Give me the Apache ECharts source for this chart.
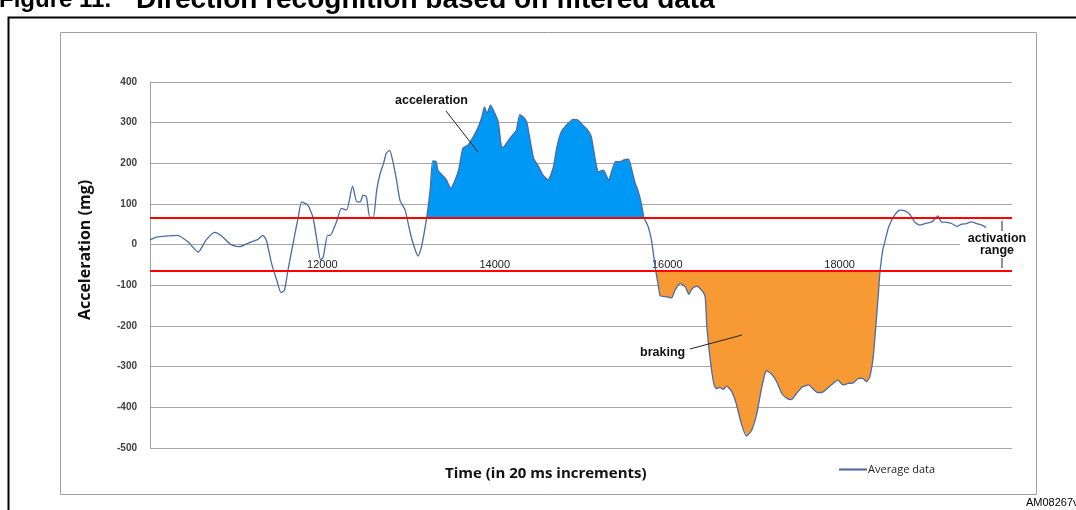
<!DOCTYPE html>
<html><head><meta charset="utf-8">
<script src="https://cdn.jsdelivr.net/npm/echarts@6/dist/echarts.min.js"></script>
<style>html,body{margin:0;padding:0;background:#fff;overflow:hidden}#c{width:1076px;height:510px}</style>
</head><body><div id="c"></div>
<script>
// ---- data ----
const times = [10000,10090,10320,10440,10560,10650,10750,10820,10940,11040,11140,11250,11310,11350,11410,11470,11520,11560,11600,11660,11720,11760,11830,11890,11930,11980,12010,12060,12090,12170,12220,12280,12350,12400,12440,12470,12510,12550,12590,12630,12670,12710,12740,12780,12810,12860,12900,12960,13020,13070,13110,13150,13210,13250,13280,13320,13340,13400,13440,13490,13540,13580,13630,13690,13750,13810,13850,13880,13910,13950,14000,14040,14080,14100,14160,14220,14250,14290,14330,14370,14410,14450,14500,14560,14620,14680,14720,14770,14830,14910,14970,15020,15080,15120,15160,15200,15260,15320,15360,15400,15460,15490,15550,15590,15630,15660,15700,15730,15780,15820,15860,15900,15920,15990,16050,16090,16150,16210,16250,16290,16340,16400,16440,16460,16500,16540,16570,16610,16650,16690,16750,16800,16860,16920,16980,17040,17090,17150,17210,17270,17330,17390,17440,17500,17560,17640,17690,17750,17810,17870,17930,17980,18040,18100,18160,18220,18270,18310,18350,18390,18420,18450,18470,18500,18530,18570,18640,18700,18760,18820,18870,18930,18990,19070,19110,19140,19180,19240,19300,19360,19410,19470,19530,19590,19650,19700];
const values = [12,19,23,7,-18,11,30,23,0,-5,4,13,23,11,-46,-87,-118,-112,-63,3,68,105,97,68,19,-38,-30,23,23,60,89,85,144,105,105,122,118,67,67,134,175,200,224,232,212,159,109,85,28,-9,-28,-5,67,134,206,204,183,169,159,138,159,183,237,245,265,290,314,339,323,343,323,302,240,240,257,273,281,320,314,302,257,212,195,171,159,191,240,277,294,308,306,294,281,265,216,179,183,159,183,204,204,208,210,183,150,134,101,67,44,8,-55,-104,-126,-128,-131,-112,-95,-104,-122,-108,-102,-112,-128,-202,-284,-341,-354,-351,-356,-348,-362,-390,-440,-471,-456,-415,-358,-310,-318,-337,-366,-378,-381,-366,-351,-345,-354,-364,-362,-351,-340,-333,-345,-341,-340,-329,-329,-337,-325,-276,-202,-120,-63,-14,11,44,73,85,83,73,56,48,52,56,64,71,56,55,52,45,50,52,56,52,48,42];
const upperThreshold = 65;
const lowerThreshold = -63;
const accelerationSpan = [13150, 15800];
const brakingSpan = [15820, 18520];
const xLabels = [12000, 14000, 16000, 18000];
const yMin = -500, yMax = 400, yStep = 100;
const xMin = 10000, xMax = 20000, xStep = 2000;

const seriesData = times.map((t, i) => [t, values[i]]);

function fillSeries(span, th, dir, color) {
  return {
    type: 'custom', coordinateSystem: 'cartesian2d', silent: true, z: 1, clip: true,
    data: [[span[0], th]],
    renderItem: function (params, api) {
      const pts = [];
      const f = v => dir > 0 ? Math.max(v, th) : Math.min(v, th);
      let first = null, last = null;
      for (let i = 0; i < times.length; i++) {
        const t = times[i], v = values[i];
        if (t < span[0] || t > span[1]) continue;
        if (i > 0 && times[i - 1] >= span[0]) {
          const a = values[i - 1] - th, b = v - th;
          if (a * b < 0) {
            const tc = times[i - 1] + (t - times[i - 1]) * a / (a - b);
            pts.push(api.coord([tc, th]));
          }
        }
        pts.push(api.coord([t, f(v)]));
        if (first === null) first = t;
        last = t;
      }
      pts.push(api.coord([last, th]));
      pts.push(api.coord([first, th]));
      return { type: 'polygon', shape: { points: pts }, style: { fill: color } };
    }
  };
}

const gridTop = 82, gridBottom = 62, chartH = 510;
const gridH = chartH - gridTop - gridBottom;
// move the x axis (labels) up to where y = 0 sits, like an Excel axis crossing at zero
const zeroOffset = -((0 - yMin) / (yMax - yMin)) * gridH;

const chart = echarts.init(document.getElementById('c'), null, { renderer: 'canvas' });
const annFont = 'bold 12.5px Liberation Sans, Arial, sans-serif';
chart.setOption({
  animation: false,
  backgroundColor: '#fff',
  grid: { left: 150, right: 64, top: gridTop, bottom: gridBottom, containLabel: false },
  xAxis: {
    type: 'value', min: xMin, max: xMax, interval: xStep, position: 'bottom', offset: zeroOffset,
    axisLine: { show: false, onZero: false },
    axisTick: { show: false },
    splitLine: { show: false },
    axisLabel: {
      margin: 15, color: '#222', fontSize: 11, fontFamily: 'Liberation Sans, Arial, sans-serif',
      formatter: v => xLabels.indexOf(v) >= 0 ? String(v) : ''
    }
  },
  yAxis: {
    type: 'value', min: yMin, max: yMax, interval: yStep,
    axisLine: { show: true, lineStyle: { color: '#a0a0a0', width: 1 } },
    axisTick: { show: false },
    splitLine: { show: true, lineStyle: { color: '#a6a6a6', width: 1 } },
    axisLabel: { margin: 13, color: '#404040', fontSize: 10, fontWeight: 'bold', fontFamily: 'Liberation Sans, Arial, sans-serif' }
  },
  legend: {
    left: 834, top: 459, itemWidth: 28, itemHeight: 2, icon: 'rect', itemGap: 4,
    textStyle: { fontSize: 11, color: '#222', fontFamily: 'Open Sans, Liberation Sans, sans-serif', padding: [0, 0, 0, -4] },
    data: [{ name: 'Average data', itemStyle: { color: '#4f5f9f' } }]
  },
  series: [
    fillSeries(accelerationSpan, upperThreshold, 1, '#0098f5'),
    fillSeries(brakingSpan, lowerThreshold, -1, '#f79a34'),
    {
      name: 'Average data', type: 'line', data: seriesData, showSymbol: false, smooth: 0.2, z: 3,
      lineStyle: { color: '#4a6ba6', width: 1.3 }, itemStyle: { color: '#4a6ba6' },
      markLine: {
        silent: true, symbol: 'none', label: { show: false }, z: 4,
        lineStyle: { color: '#ff0000', width: 2, type: 'solid' },
        data: [{ yAxis: upperThreshold }, { yAxis: lowerThreshold }]
      }
    }
  ],
  graphic: [
    { type: 'rect', left: 6, top: 15, shape: { width: 1100, height: 600 }, style: { fill: 'none', stroke: '#000', lineWidth: 2 }, z: 100, silent: true },
    { type: 'rect', left: 58, top: 30, shape: { width: 976, height: 462 }, style: { fill: 'none', stroke: '#a0a0a0', lineWidth: 1 }, z: 100, silent: true },
    { type: 'text', x: -1, y: -12, style: { text: 'Figure 11.', font: 'bold 24px Liberation Sans, Arial, sans-serif', fill: '#000', textVerticalAlign: 'top' }, z: 100 },
    { type: 'text', x: 136, y: -14, style: { text: 'Direction recognition based on filtered data', font: 'bold 28px Liberation Sans, Arial, sans-serif', fill: '#000', textVerticalAlign: 'top' }, z: 100 },
    { type: 'text', left: 1026, top: 497, style: { text: 'AM08267v', font: '11px Liberation Sans, Arial, sans-serif', fill: '#000' }, z: 100 },
    { type: 'text', x: 85, y: 250, rotation: Math.PI / 2, style: { text: 'Acceleration (mg)', font: 'bold 16px Open Sans, Liberation Sans, sans-serif', fill: '#111', textAlign: 'center', textVerticalAlign: 'middle' }, z: 100 },
    { type: 'text', left: 445, top: 466, style: { text: 'Time (in 20 ms increments)', font: 'bold 15px Open Sans, Liberation Sans, sans-serif', fill: '#111' }, z: 100 },
    { type: 'text', left: 395, top: 94, style: { text: 'acceleration', font: annFont, fill: '#111' }, z: 100 },
    { type: 'line', shape: { x1: 446, y1: 111, x2: 478, y2: 152 }, style: { stroke: '#222', lineWidth: 1 }, z: 100 },
    { type: 'text', left: 640, top: 346, style: { text: 'braking', font: annFont, fill: '#111' }, z: 100 },
    { type: 'line', shape: { x1: 690, y1: 349, x2: 742, y2: 335 }, style: { stroke: '#222', lineWidth: 1 }, z: 100 },
    { type: 'rect', left: 960, top: 235, shape: { width: 52, height: 20 }, style: { fill: '#fff' }, z: 50 },
    { type: 'text', x: 997, y: 232, style: { text: 'activation\nrange', font: annFont, fill: '#111', textAlign: 'center', lineHeight: 12.5 }, z: 100 },
    { type: 'line', shape: { x1: 1002, y1: 221, x2: 1002, y2: 231 }, style: { stroke: '#222', lineWidth: 1 }, z: 100 },
    { type: 'line', shape: { x1: 1002, y1: 258, x2: 1002, y2: 268 }, style: { stroke: '#222', lineWidth: 1 }, z: 100 }
  ]
});
</script></body></html>
